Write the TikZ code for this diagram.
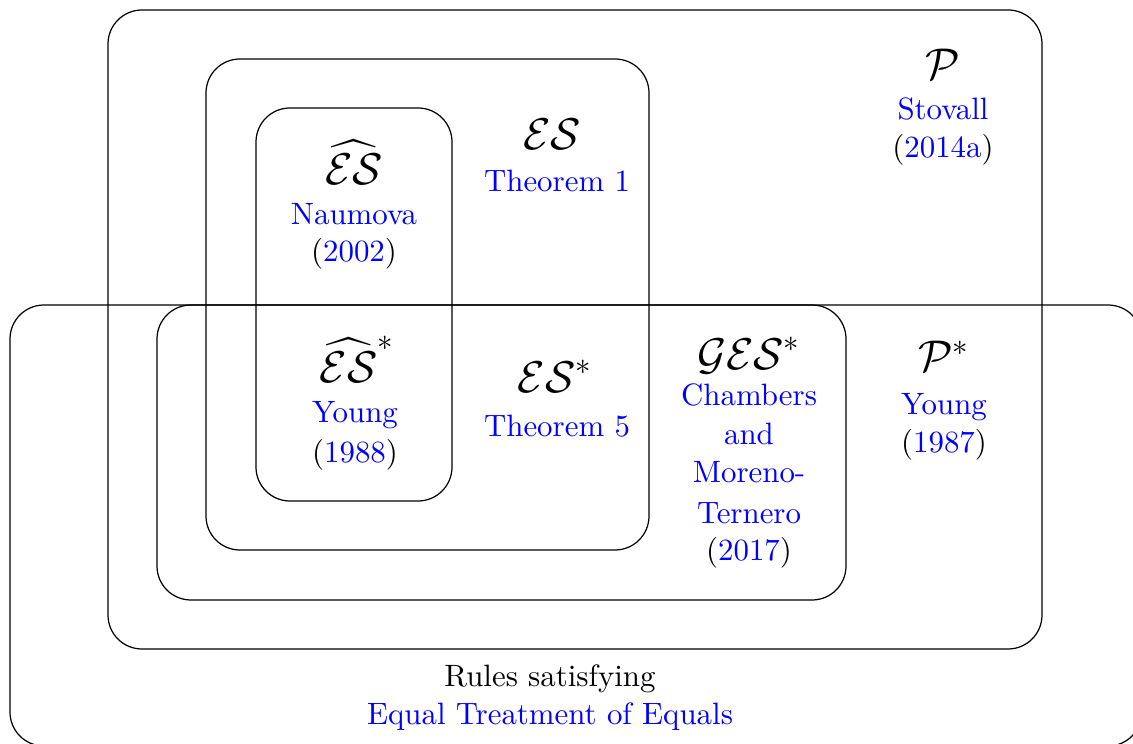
\documentclass[tikz,border=0pt]{standalone}
\usepackage{amsmath,amssymb}
\begin{document}
\begin{tikzpicture}[x=0.3237pt,y=-0.3237pt,
  box/.style={draw=black,line width=0.4pt,rounded corners=11pt},
  lbl/.style={anchor=base,inner sep=0pt},
  sym/.style={lbl,font=\Large}]
\useasboundingbox (0,0) rectangle (1133,744);
\clip (0,0) rectangle (1133,744);
% boxes
\draw[box] (108,10) rectangle (1042,649);
\draw[box] (206,59) rectangle (649,550);
\draw[box] (256,108) rectangle (452,501);
\draw[box] (157,305) rectangle (846,600);
\draw[box] (10,305) rectangle (1142,746);
% P
\node[sym] (p) at (943,80) {$\mathcal{P}$};
\node[lbl] (p1) at (943,120) {\textcolor{blue}{Stovall}};
\node[lbl] (p2) at (943,158) {(\textcolor{blue}{2014a})};
% ES hat
\node[sym] (esh) at (354,185) {$\widehat{\mathcal{ES}}$};
\node[lbl] (esh1) at (354,225) {\textcolor{blue}{Naumova}};
\node[lbl] (esh2) at (354,262) {(\textcolor{blue}{2002})};
% ES
\node[sym] (es) at (552,150) {$\mathcal{ES}$};
\node[lbl] (es1) at (557,192) {\textcolor{blue}{Theorem 1}};
% ES hat star
\node[sym] (eshs) at (357,383) {$\widehat{\mathcal{ES}}^*$};
\node[lbl] (eshs1) at (355,423) {\textcolor{blue}{Young}};
\node[lbl] (eshs2) at (355,462) {(\textcolor{blue}{1988})};
% ES star
\node[sym] (ess) at (555,393) {$\mathcal{ES}^*$};
\node[lbl] (ess1) at (557,437) {\textcolor{blue}{Theorem 5}};
% GES star
\node[sym] (ges) at (749,370) {$\mathcal{GES}^*$};
\node[lbl] (ges1) at (749,406) {\textcolor{blue}{Chambers}};
\node[lbl] (ges2) at (749,445) {\textcolor{blue}{and}};
\node[lbl] (ges3) at (749,483) {\textcolor{blue}{Moreno-}};
\node[lbl] (ges4) at (749,523) {\textcolor{blue}{Ternero}};
\node[lbl] (ges5) at (749,560) {(\textcolor{blue}{2017})};
% P star
\node[sym] (ps) at (944,372) {$\mathcal{P}^*$};
\node[lbl] (ps1) at (944,415) {\textcolor{blue}{Young}};
\node[lbl] (ps2) at (944,453) {(\textcolor{blue}{1987})};
% ETE
\node[lbl] (ete1) at (550,686) {Rules satisfying};
\node[lbl] (ete2) at (550,724) {\textcolor{blue}{Equal Treatment of Equals}};
\end{tikzpicture}
\end{document}
